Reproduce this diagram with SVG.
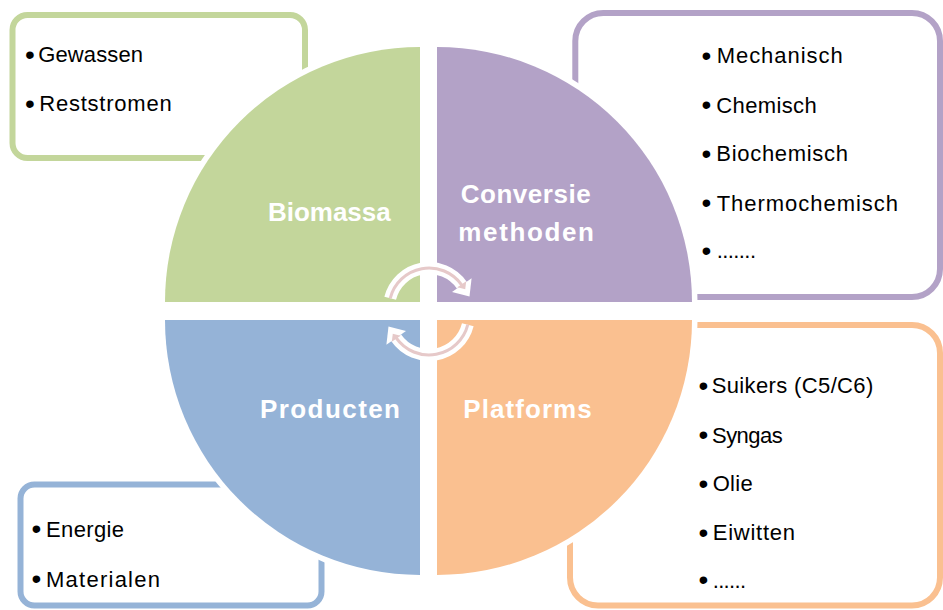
<svg xmlns="http://www.w3.org/2000/svg" xmlns:xlink="http://www.w3.org/1999/xlink" width="943" height="610" viewBox="0 0 943 610">
<style>
.box{fill:#FFFFFF;stroke-width:6}
.quad{stroke:#FFFFFF;stroke-width:11;paint-order:stroke;stroke-linejoin:miter}
.lbl{font-family:"Liberation Sans",Arial,sans-serif;font-size:26px;font-weight:bold;fill:#FFFFFF}
.item{font-family:"Liberation Sans",Arial,sans-serif;font-size:22px;fill:#000000}
.bul{font-family:"Liberation Sans",Arial,sans-serif;font-size:28px;fill:#000000}
.green{fill:#C3D69B}.purple{fill:#B3A2C7}.blue{fill:#95B3D7}.orange{fill:#FAC090}
</style>
<defs>
<g id="arrow">
<path d="M390.2,298.3 A40,40 0 0 1 461.8,285.1" fill="none" stroke="#FFFFFF" stroke-width="12"/>
<polygon points="471.6,278.2 452,292 469.5,296.5" fill="#FFFFFF"/>
<path d="M390.2,298.3 A40,40 0 0 1 461.8,285.1" fill="none" stroke="#E6C9C9" stroke-width="3"/>
<polygon points="466.2,281.2 457.4,287.3 465.2,289.3" fill="#E6C9C9"/>
</g>
</defs>
<rect width="943" height="610" fill="#FFFFFF"/>

<g id="biomassa-box">
<rect class="box" x="12.5" y="15" width="292.5" height="143" rx="15" stroke="#C3D69B"/>
<text class="bul" x="25" y="63.8">•</text><text class="item" x="38.3" y="62.3" textLength="104.7" lengthAdjust="spacing">Gewassen</text>
<text class="bul" x="25" y="112.5">•</text><text class="item" x="39.3" y="111" textLength="132.4" lengthAdjust="spacing">Reststromen</text>
</g>
<g id="conversie-box">
<rect class="box" x="575.3" y="13" width="364.7" height="284" rx="28" stroke="#B3A2C7"/>
<text class="bul" x="701.5" y="64.8">•</text><text class="item" x="716.7" y="63.3" textLength="126" lengthAdjust="spacing">Mechanisch</text>
<text class="bul" x="701.5" y="114.2">•</text><text class="item" x="716.3" y="112.7" textLength="100.4" lengthAdjust="spacing">Chemisch</text>
<text class="bul" x="701.5" y="162.5">•</text><text class="item" x="716.3" y="161" textLength="131.7" lengthAdjust="spacing">Biochemisch</text>
<text class="bul" x="701.5" y="212.2">•</text><text class="item" x="716.7" y="210.7" textLength="181.3" lengthAdjust="spacing">Thermochemisch</text>
<text class="bul" x="701.5" y="259.5">•</text><text class="item" x="716.7" y="258" textLength="39.3" lengthAdjust="spacing">.......</text>
</g>
<g id="platforms-box">
<rect class="box" x="570" y="325" width="370" height="280.5" rx="28" stroke="#FAC090"/>
<text class="bul" x="698.5" y="394.8">•</text><text class="item" x="711.7" y="393.3" textLength="161.6" lengthAdjust="spacing">Suikers (C5/C6)</text>
<text class="bul" x="698.5" y="444.2">•</text><text class="item" x="712" y="442.7" textLength="70.7" lengthAdjust="spacing">Syngas</text>
<text class="bul" x="698.5" y="492.5">•</text><text class="item" x="712.7" y="491" textLength="40" lengthAdjust="spacing">Olie</text>
<text class="bul" x="698.5" y="541.5">•</text><text class="item" x="712.7" y="540" textLength="82.3" lengthAdjust="spacing">Eiwitten</text>
<text class="bul" x="698.5" y="589.2">•</text><text class="item" x="712.7" y="587.7" textLength="33.3" lengthAdjust="spacing">......</text>
</g>
<g id="producten-box">
<rect class="box" x="20.5" y="484.5" width="301" height="121" rx="14" stroke="#95B3D7"/>
<text class="bul" x="31.5" y="538.2">•</text><text class="item" x="46" y="536.7" textLength="78" lengthAdjust="spacing">Energie</text>
<text class="bul" x="31.5" y="588.2">•</text><text class="item" x="46" y="586.7" textLength="114" lengthAdjust="spacing">Materialen</text>
</g>

<g id="biomassa">
<path class="quad green" d="M420,302 L165,302 A255,255 0 0 1 420,47 Z"/>
<text class="lbl" x="268" y="220.7" textLength="122.7" lengthAdjust="spacing">Biomassa</text>
</g>
<g id="conversie">
<path class="quad purple" d="M437,302 L437,47 A255,255 0 0 1 692,302 Z"/>
<text class="lbl" x="460.7" y="203.3" textLength="130" lengthAdjust="spacing">Conversie</text>
<text class="lbl" x="458.3" y="240.7" textLength="135.7" lengthAdjust="spacing">methoden</text>
</g>
<g id="producten">
<path class="quad blue" d="M420,320 L420,575 A255,255 0 0 1 165,320 Z"/>
<text class="lbl" x="260" y="418.3" textLength="140" lengthAdjust="spacing">Producten</text>
</g>
<g id="platforms">
<path class="quad orange" d="M437,320 L692,320 A255,255 0 0 1 437,575 Z"/>
<text class="lbl" x="463.3" y="418.3" textLength="128.4" lengthAdjust="spacing">Platforms</text>
</g>

<g id="connectors">
<use xlink:href="#arrow"/>
<use xlink:href="#arrow" transform="rotate(180 429 311.5)"/>
</g>
</svg>
